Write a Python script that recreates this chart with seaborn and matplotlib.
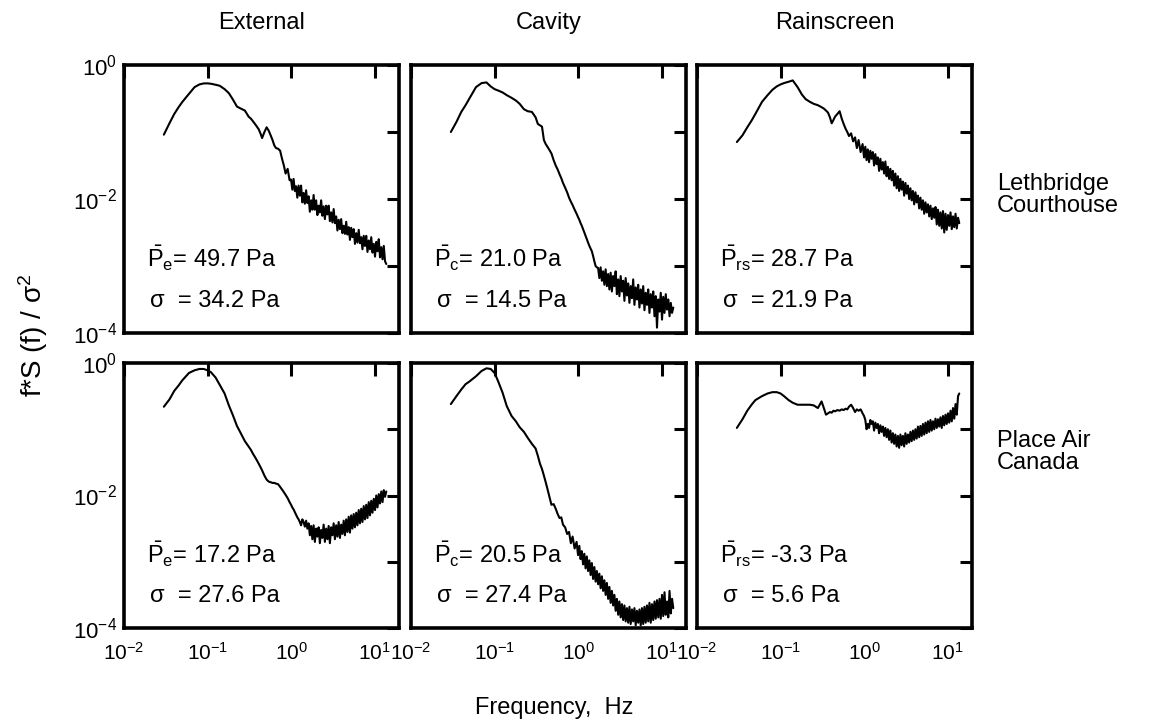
import numpy as np
import pandas as pd
import matplotlib
matplotlib.use("Agg")
import matplotlib.pyplot as plt
import seaborn as sns
from matplotlib.ticker import FixedLocator, NullLocator

# ---------------- data ----------------
# common frequency grid, Hz
freq_low_hz = [0.030, 0.035, 0.040, 0.045, 0.050, 0.060, 0.070, 0.080, 0.090, 0.100,
               0.110, 0.125, 0.140, 0.160, 0.180, 0.200, 0.225, 0.250, 0.280]
freq_mid_hz = [0.31, 0.33, 0.35, 0.37, 0.39, 0.41, 0.43, 0.45, 0.48, 0.51, 0.54,
               0.57, 0.60, 0.63, 0.66, 0.70, 0.74, 0.78, 0.82, 0.86, 0.91, 0.96]
freq_high_hz = [1.000, 1.035, 1.072, 1.109, 1.148, 1.189, 1.230, 1.274, 1.318, 1.365,
                1.413, 1.462, 1.514, 1.567, 1.622, 1.679, 1.738, 1.799, 1.862, 1.928,
                1.995, 2.065, 2.138, 2.213, 2.291, 2.371, 2.455, 2.541, 2.630, 2.723,
                2.818, 2.917, 3.020, 3.126, 3.236, 3.350, 3.467, 3.589, 3.715, 3.846,
                3.981, 4.121, 4.266, 4.416, 4.571, 4.732, 4.898, 5.070, 5.248, 5.433,
                5.623, 5.821, 6.026, 6.237, 6.457, 6.683, 6.918, 7.161, 7.413, 7.674,
                7.943, 8.222, 8.511, 8.810, 9.120, 9.441, 9.772, 10.12, 10.47, 10.84,
                11.22, 11.61, 12.02, 12.45, 12.88, 13.34, 13.80]
freq_hz = freq_low_hz + freq_mid_hz + freq_high_hz

# log10 of f*S(f)/sigma^2
leth_external_log10 = [
    -1.04, -0.87, -0.73, -0.63, -0.55, -0.43, -0.33, -0.29, -0.275, -0.274,
    -0.28, -0.295, -0.31, -0.36, -0.42, -0.51, -0.62, -0.65, -0.68,
    -0.77, -0.80, -0.84, -0.88, -0.92, -0.96, -1.02, -1.09, -1.00, -0.93, -0.98,
    -1.05, -1.12, -1.20, -1.24, -1.25, -1.28, -1.40, -1.50, -1.62, -1.55, -1.72,
    -1.71, -1.86, -1.70, -1.88, -1.81, -1.98, -1.80, -1.95, -1.80, -2.05,
    -1.91, -2.07, -1.87, -2.06, -1.96, -2.19, -2.02, -2.16, -1.94, -2.16,
    -2.02, -2.24, -2.10, -2.20, -2.02, -2.25, -2.11, -2.30, -2.10, -2.23,
    -2.10, -2.33, -2.20, -2.35, -2.15, -2.36, -2.26, -2.47, -2.31, -2.45,
    -2.30, -2.51, -2.40, -2.52, -2.34, -2.53, -2.42, -2.61, -2.43, -2.57,
    -2.45, -2.67, -2.51, -2.65, -2.46, -2.66, -2.57, -2.75, -2.55, -2.70,
    -2.55, -2.79, -2.62, -2.75, -2.57, -2.80, -2.67, -2.86, -2.64, -2.78,
    -2.60, -2.87, -2.72, -2.90, -2.70, -2.93, -2.97]
leth_cavity_log10 = [
    -1.00, -0.85, -0.70, -0.60, -0.50, -0.33, -0.27, -0.26, -0.32, -0.36,
    -0.38, -0.41, -0.45, -0.49, -0.53, -0.58, -0.66, -0.69, -0.70,
    -0.78, -0.88, -0.90, -0.92, -1.12, -1.18, -1.22, -1.26, -1.32, -1.42, -1.50,
    -1.56, -1.63, -1.69, -1.76, -1.83, -1.90, -1.98, -2.04, -2.09, -2.16, -2.22,
    -2.27, -2.31, -2.36, -2.40, -2.45, -2.50, -2.55, -2.60, -2.65, -2.70,
    -2.74, -2.78, -2.85, -2.93, -3.00, -3.02,
    -3.03, -3.18, -3.02, -3.22, -3.08, -3.28, -3.05, -3.30, -3.12, -3.35,
    -3.10, -3.38, -3.15, -3.30, -3.08, -3.42, -3.20, -3.45, -3.15, -3.38,
    -3.22, -3.52, -3.18, -3.44, -3.26, -3.55, -3.30, -3.48, -3.20, -3.58,
    -3.32, -3.50, -3.28, -3.62, -3.35, -3.56, -3.30, -3.66, -3.40, -3.58,
    -3.35, -3.70, -3.42, -3.62, -3.38, -3.75, -3.45, -3.92, -3.50, -3.68,
    -3.40, -3.80, -3.46, -3.70, -3.42, -3.65, -3.50, -3.75, -3.55, -3.70, -3.62]
leth_rainscreen_log10 = [
    -1.15, -1.05, -0.93, -0.83, -0.73, -0.55, -0.45, -0.37, -0.32, -0.29,
    -0.27, -0.25, -0.23, -0.33, -0.44, -0.51, -0.55, -0.58, -0.60,
    -0.63, -0.65, -0.68, -0.71, -0.78, -0.87, -0.82, -0.77, -0.73, -0.69, -0.80,
    -0.88, -0.95, -1.00, -1.06, -1.02, -1.14, -1.08, -1.24, -1.12, -1.30, -1.18,
    -1.38, -1.22, -1.42, -1.26, -1.45, -1.28, -1.40, -1.30, -1.50, -1.33,
    -1.48, -1.38, -1.58, -1.40, -1.56, -1.45, -1.62, -1.44, -1.66, -1.52,
    -1.70, -1.55, -1.72, -1.58, -1.80, -1.62, -1.84, -1.66, -1.88, -1.70,
    -1.86, -1.74, -1.95, -1.76, -1.92, -1.80, -2.00, -1.84, -2.02, -1.88,
    -2.08, -1.90, -2.05, -1.95, -2.14, -1.98, -2.16, -2.02, -2.22, -2.05,
    -2.20, -2.08, -2.26, -2.10, -2.30, -2.14, -2.28, -2.12, -2.38, -2.16,
    -2.40, -2.20, -2.44, -2.18, -2.50, -2.22, -2.46, -2.24, -2.40, -2.20,
    -2.45, -2.26, -2.42, -2.22, -2.44, -2.28, -2.36]
pac_external_log10 = [
    -0.66, -0.55, -0.42, -0.34, -0.26, -0.15, -0.11, -0.09, -0.09, -0.11,
    -0.14, -0.22, -0.33, -0.46, -0.64, -0.78, -0.95, -1.06, -1.18,
    -1.26, -1.31, -1.37, -1.42, -1.47, -1.52, -1.57, -1.62, -1.70, -1.76, -1.79,
    -1.80, -1.81, -1.81, -1.82, -1.83, -1.87, -1.91, -1.95, -1.99, -2.04, -2.10,
    -2.14, -2.18, -2.21, -2.25, -2.29, -2.33, -2.36, -2.40, -2.45, -2.36,
    -2.40, -2.47, -2.38, -2.50, -2.42, -2.60, -2.46, -2.66, -2.45, -2.70,
    -2.50, -2.62, -2.48, -2.72, -2.52, -2.64, -2.44, -2.70, -2.50, -2.66,
    -2.46, -2.72, -2.48, -2.60, -2.42, -2.66, -2.45, -2.62, -2.40, -2.64,
    -2.44, -2.58, -2.38, -2.60, -2.36, -2.55, -2.32, -2.56, -2.30, -2.50,
    -2.28, -2.48, -2.26, -2.45, -2.22, -2.42, -2.20, -2.40, -2.16, -2.36,
    -2.14, -2.34, -2.10, -2.30, -2.08, -2.26, -2.05, -2.22, -2.00, -2.18,
    -1.98, -2.12, -1.94, -2.10, -1.92, -2.02, -1.94]
pac_cavity_log10 = [
    -0.62, -0.50, -0.40, -0.32, -0.28, -0.20, -0.12, -0.08, -0.09, -0.15,
    -0.27, -0.45, -0.65, -0.80, -0.88, -0.97, -1.04, -1.13, -1.22,
    -1.29, -1.40, -1.52, -1.60, -1.70, -1.80, -1.90, -2.00, -2.14, -2.13, -2.20,
    -2.28, -2.34, -2.33, -2.44, -2.48, -2.58, -2.55, -2.72, -2.62, -2.80, -2.70,
    -2.90, -2.76, -2.96, -2.84, -3.04, -2.88, -3.10, -2.92, -3.14, -2.98,
    -3.20, -3.02, -3.26, -3.08, -3.30, -3.14, -3.34, -3.18, -3.40, -3.22,
    -3.44, -3.28, -3.50, -3.32, -3.56, -3.38, -3.62, -3.44, -3.66, -3.50,
    -3.74, -3.56, -3.80, -3.60, -3.84, -3.64, -3.88, -3.66, -3.90, -3.70,
    -3.92, -3.68, -3.94, -3.72, -3.90, -3.70, -3.96, -3.74, -3.92, -3.72,
    -3.96, -3.70, -3.94, -3.68, -3.92, -3.66, -3.90, -3.62, -3.92, -3.64,
    -3.88, -3.60, -3.86, -3.58, -3.84, -3.56, -3.86, -3.50, -3.82, -3.46,
    -3.80, -3.60, -3.84, -3.44, -3.78, -3.56, -3.70]
pac_rainscreen_log10 = [
    -0.98, -0.85, -0.72, -0.63, -0.56, -0.50, -0.46, -0.44, -0.44, -0.46,
    -0.50, -0.56, -0.60, -0.63, -0.63, -0.63, -0.63, -0.64, -0.68,
    -0.58, -0.68, -0.78, -0.76, -0.74, -0.75, -0.72, -0.73, -0.71, -0.72, -0.70,
    -0.71, -0.69, -0.70, -0.66, -0.63, -0.68, -0.74, -0.70, -0.72, -0.70, -0.76,
    -0.80, -0.86, -1.00, -0.92, -0.98, -0.86, -0.92, -0.88, -1.02, -0.90,
    -0.98, -0.92, -1.06, -0.94, -1.04, -0.96, -1.10, -0.98, -1.12, -1.00,
    -1.16, -1.02, -1.20, -1.06, -1.22, -1.08, -1.26, -1.10, -1.28, -1.08,
    -1.24, -1.10, -1.26, -1.06, -1.22, -1.08, -1.20, -1.04, -1.18, -1.02,
    -1.16, -1.00, -1.14, -0.96, -1.12, -0.95, -1.10, -0.92, -1.08, -0.90,
    -1.06, -0.88, -1.04, -0.86, -1.02, -0.88, -1.00, -0.84, -0.98, -0.85,
    -0.96, -0.82, -0.98, -0.80, -0.94, -0.78, -0.92, -0.76, -0.90, -0.72,
    -0.88, -0.68, -0.84, -0.62, -0.78, -0.50, -0.46]

columns = ["External", "Cavity", "Rainscreen"]
rows = ["Lethbridge\nCourthouse", "Place Air\nCanada"]
subscripts = ["e", "c", "rs"]
mean_pa = [[49.7, 21.0, 28.7], [17.2, 20.5, -3.3]]
sigma_pa = [[34.2, 14.5, 21.9], [27.6, 27.4, 5.6]]
series = [[leth_external_log10, leth_cavity_log10, leth_rainscreen_log10],
          [pac_external_log10, pac_cavity_log10, pac_rainscreen_log10]]
xtick_vals = [1e-2, 1e-1, 1e0, 1e1]
xtick_labels = [r"$\mathdefault{10^{-2}}$", r"$\mathdefault{10^{-1}}$",
                r"$\mathdefault{10^{0}}$", r"$\mathdefault{10^{1}}$"]
ytick_vals = [1e-4, 1e-3, 1e-2, 1e-1, 1e0]
ytick_labels = [r"$\mathdefault{10^{-4}}$", "", r"$\mathdefault{10^{-2}}$", "",
                r"$\mathdefault{10^{0}}$"]

# ---------------- styling ----------------
sns.set_theme(style="white")
plt.rcParams["font.family"] = ["Liberation Sans", "DejaVu Sans"]
plt.rcParams["mathtext.fontset"] = "custom"
plt.rcParams["mathtext.rm"] = "Liberation Sans"
plt.rcParams["mathtext.it"] = "Liberation Sans:italic"
plt.rcParams["mathtext.bf"] = "Liberation Sans:bold"
plt.rcParams["text.color"] = "black"
plt.rcParams["axes.labelcolor"] = "black"
plt.rcParams["xtick.color"] = "black"
plt.rcParams["ytick.color"] = "black"

W, H = 1154, 726
fig = plt.figure(figsize=(W / 100, H / 100), dpi=100)
fig.patch.set_facecolor("white")

col_left = [124, 411, 697]
col_w = 275
row_top = [65, 363]
row_h = [268, 265]
FS = 17

for r in range(2):
    for c in range(3):
        vals = series[r][c]
        n = min(len(freq_hz), len(vals))
        df = pd.DataFrame({"freq_hz": freq_hz[:n],
                           "psd": np.power(10.0, np.array(vals[:n]))})
        ax = fig.add_axes([col_left[c] / W, (H - row_top[r] - row_h[r]) / H,
                           col_w / W, row_h[r] / H])
        sns.lineplot(data=df, x="freq_hz", y="psd", ax=ax, color="black",
                     linewidth=1.5, estimator=None, sort=False, legend=False)
        ax.set_xscale("log")
        ax.set_yscale("log")
        ax.set_xlim(0.01, 19.6)
        ax.set_ylim(1e-4, 1.0)
        ax.set_xlabel("")
        ax.set_ylabel("")
        ax.set_facecolor("white")
        for sp in ax.spines.values():
            sp.set_linewidth(2.6)
            sp.set_color("black")
        ax.xaxis.set_major_locator(FixedLocator(xtick_vals))
        ax.xaxis.set_minor_locator(NullLocator())
        ax.yaxis.set_major_locator(FixedLocator(ytick_vals))
        ax.yaxis.set_minor_locator(NullLocator())
        ax.tick_params(axis="both", which="major", direction="in", length=9,
                       width=2.2, top=True, right=True, colors="black",
                       labelsize=16)
        ax.tick_params(axis="x", pad=10, labelsize=15)
        ax.tick_params(axis="y", pad=5)
        if r == 1:
            ax.set_xticklabels(xtick_labels)
        else:
            ax.tick_params(axis="x", labelbottom=False)
        if c == 0:
            ax.set_yticklabels(ytick_labels)
        else:
            ax.tick_params(axis="y", labelleft=False)
        ax.grid(False)

        ax.text(0.085, 0.245,
                r"$\bar{\mathrm{P}}_{\mathrm{%s}}$= %.1f Pa" % (subscripts[c], mean_pa[r][c]),
                transform=ax.transAxes, fontsize=FS, ha="left", va="baseline",
                color="black")
        ax.text(0.095, 0.097, "σ  = %.1f Pa" % sigma_pa[r][c],
                transform=ax.transAxes, fontsize=FS, ha="left", va="baseline",
                color="black")

for c, name in enumerate(columns):
    fig.text((col_left[c] + col_w / 2) / W, 1 - 23 / H, name, ha="center",
             va="center", fontsize=FS, color="black")

fig.text(997 / W, 1 - 195 / H, rows[0], ha="left", va="center", fontsize=FS,
         linespacing=1.05, color="black")
fig.text(997 / W, 1 - 452 / H, rows[1], ha="left", va="center", fontsize=FS,
         linespacing=1.05, color="black")

fig.text(33 / W, 1 - 335 / H, r"f*S (f) / σ$^\mathdefault{2}$", rotation=90,
         ha="center", va="center", fontsize=20, color="black")
fig.text(554 / W, 1 - 708 / H, "Frequency,  Hz", ha="center", va="center",
         fontsize=FS, color="black")

fig.savefig("out.png", dpi=100, facecolor="white")
